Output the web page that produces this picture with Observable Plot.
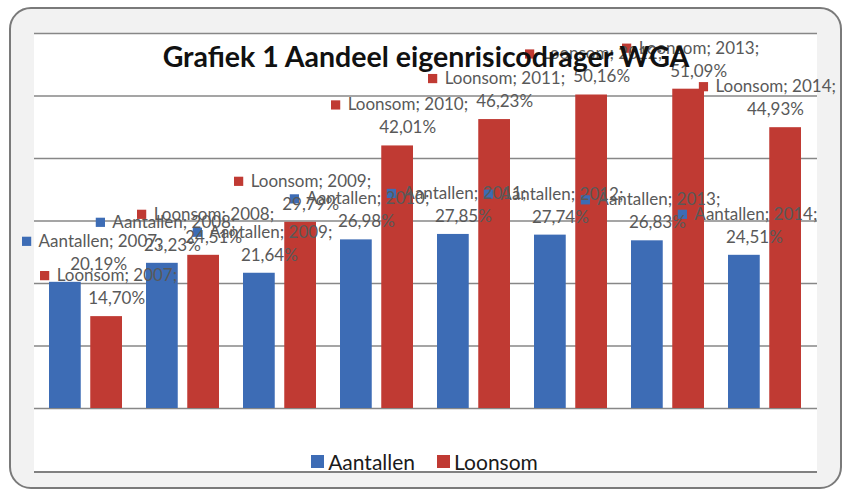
<!DOCTYPE html>
<html><head><meta charset="utf-8">
<script src="https://cdn.jsdelivr.net/npm/d3@7"></script>
<script src="https://cdn.jsdelivr.net/npm/@observablehq/plot@0.6"></script>
<style>
body{margin:0;background:#fff;font-family:Lato,sans-serif}
#wrap{position:relative;width:849px;height:492px;overflow:hidden}
#frame{position:absolute;left:9px;top:7px;width:829px;height:478px;border:2px solid #7a7a7a;border-radius:22px;background:#f2f2f2}
#inner{position:absolute;left:34px;top:33px;width:783px;height:438px;background:#fff;border-bottom:2px solid #808080}
#chart{position:absolute;left:0;top:0}
#legend{position:absolute;left:0;width:849px;top:449px;display:flex;justify-content:center}
.lg-swatch > svg{margin-right:4px !important}
.lg-swatches-wrap .lg-swatch{margin-right:22px !important}
.lg-swatches-wrap .lg-swatch:last-child{margin-right:0 !important}
.lg-swatches{margin:0 !important}
.lg-swatches-wrap{min-height:0 !important}
</style></head><body>
<div id="wrap"><div id="frame"></div><div id="inner"></div><div id="chart"></div><div id="legend"></div></div>
<script>
// ---- data ----
const years = ["2007","2008","2009","2010","2011","2012","2013","2014"];
const series = ["Aantallen","Loonsom"];
const aantallen = [20.19,23.23,21.64,26.98,27.85,27.74,26.83,24.51];
const loonsom = [14.70,24.51,29.79,42.01,46.23,50.16,51.09,44.93];
const colors = ["#3d6cb5","#c03a33"];
const yTicks = [0,10,20,30,40,50,60];
const title = "Grafiek 1 Aandeel eigenrisicodrager WGA";

const values = {Aantallen: aantallen, Loonsom: loonsom};
const rows = series.flatMap(s => years.map((y,i) => ({series:s, year:y, value:values[s][i]})));
const fmt = v => v.toFixed(2).replace(".", ",") + "%";

// ---- layout ----
const W = 849, H = 492, mL = 34, mR = 32, mT = 33, mB = 84;
const padIn = 0.245, padOut = 0.13, barW = 32.5;
const step = (W - mL - mR) / (years.length - padIn + 2 * padOut);
const bw = step * (1 - padIn);
const inset = bw - barW;
const off = inset / 2; // bar center offset from band center
const labelFont = 17, labelColor = "#595959";

const marks = [Plot.ruleY(yTicks, {stroke:"#878787", strokeWidth:1.6})];
series.forEach((s, k) => {
  const data = rows.filter(d => d.series === s);
  marks.push(Plot.barY(data, {x:"year", y:"value", fill:"series",
    insetLeft: k === 0 ? 0 : inset, insetRight: k === 0 ? inset : 0}));
});
const labelMarks = {};
series.forEach((s, k) => {
  const data = rows.filter(d => d.series === s);
  const base = k === 0 ? -off : off;
  const sq = Plot.dot(data, {x:"year", y:"value", symbol:"square", r:5.2, fill:"series",
    dx: base - 62, dy: -41});
  const l1 = Plot.text(data, {x:"year", y:"value", text: d => `${d.series}; ${d.year};`,
    textAnchor:"start", dx: base - 50, dy: -41, fontSize: labelFont, fill: labelColor});
  const l2 = Plot.text(data, {x:"year", y:"value", text: d => fmt(d.value),
    dx: base + 10, dy: -18, fontSize: labelFont, fill: labelColor});
  labelMarks[s] = [marks.length, marks.length + 1, marks.length + 2];
  marks.push(sq, l1, l2);
});
marks.push(Plot.text([title], {frameAnchor:"top", dy:13, fontSize:28.5, fontWeight:"bold", fill:"#111"}));

const chart = Plot.plot({
  width: W, height: H, marginLeft: mL, marginRight: mR, marginTop: mT, marginBottom: mB,
  style: {background:"transparent", fontFamily:"Lato, sans-serif", overflow:"visible"},
  x: {domain: years, paddingInner: padIn, paddingOuter: padOut, axis: null},
  y: {domain: [0, 60], axis: null},
  color: {domain: series, range: colors},
  marks
});
document.getElementById("chart").append(chart);

// keep each data label inside the chart area (as the spreadsheet does)
const minX = 22, maxX = 836;
const groups = Array.from(chart.children).filter(n => n.tagName.toLowerCase() === "g");
const svgLeft = chart.getBoundingClientRect().left;
series.forEach(s => {
  const [a, b, c] = labelMarks[s].map(i => Array.from(groups[i].children));
  for (let i = 0; i < a.length; i++) {
    const els = [a[i], b[i], c[i]].filter(Boolean);
    let lo = Infinity, hi = -Infinity;
    els.forEach(el => {
      const r = el.getBoundingClientRect();
      lo = Math.min(lo, r.left - svgLeft); hi = Math.max(hi, r.right - svgLeft);
    });
    let shift = 0;
    if (lo < minX) shift = minX - lo; else if (hi > maxX) shift = maxX - hi;
    if (shift) els.forEach(el => el.setAttribute("transform", `translate(${shift},0) ` + (el.getAttribute("transform") || "")));
  }
});

const legend = Plot.legend({color: {domain: series, range: colors}, legend: "swatches",
  swatchSize: 13, className: "lg", style: {fontSize: "21px", fontFamily: "Lato, sans-serif", color: "#1a1a1a"}});
document.getElementById("legend").append(legend);
</script>
</body></html>
